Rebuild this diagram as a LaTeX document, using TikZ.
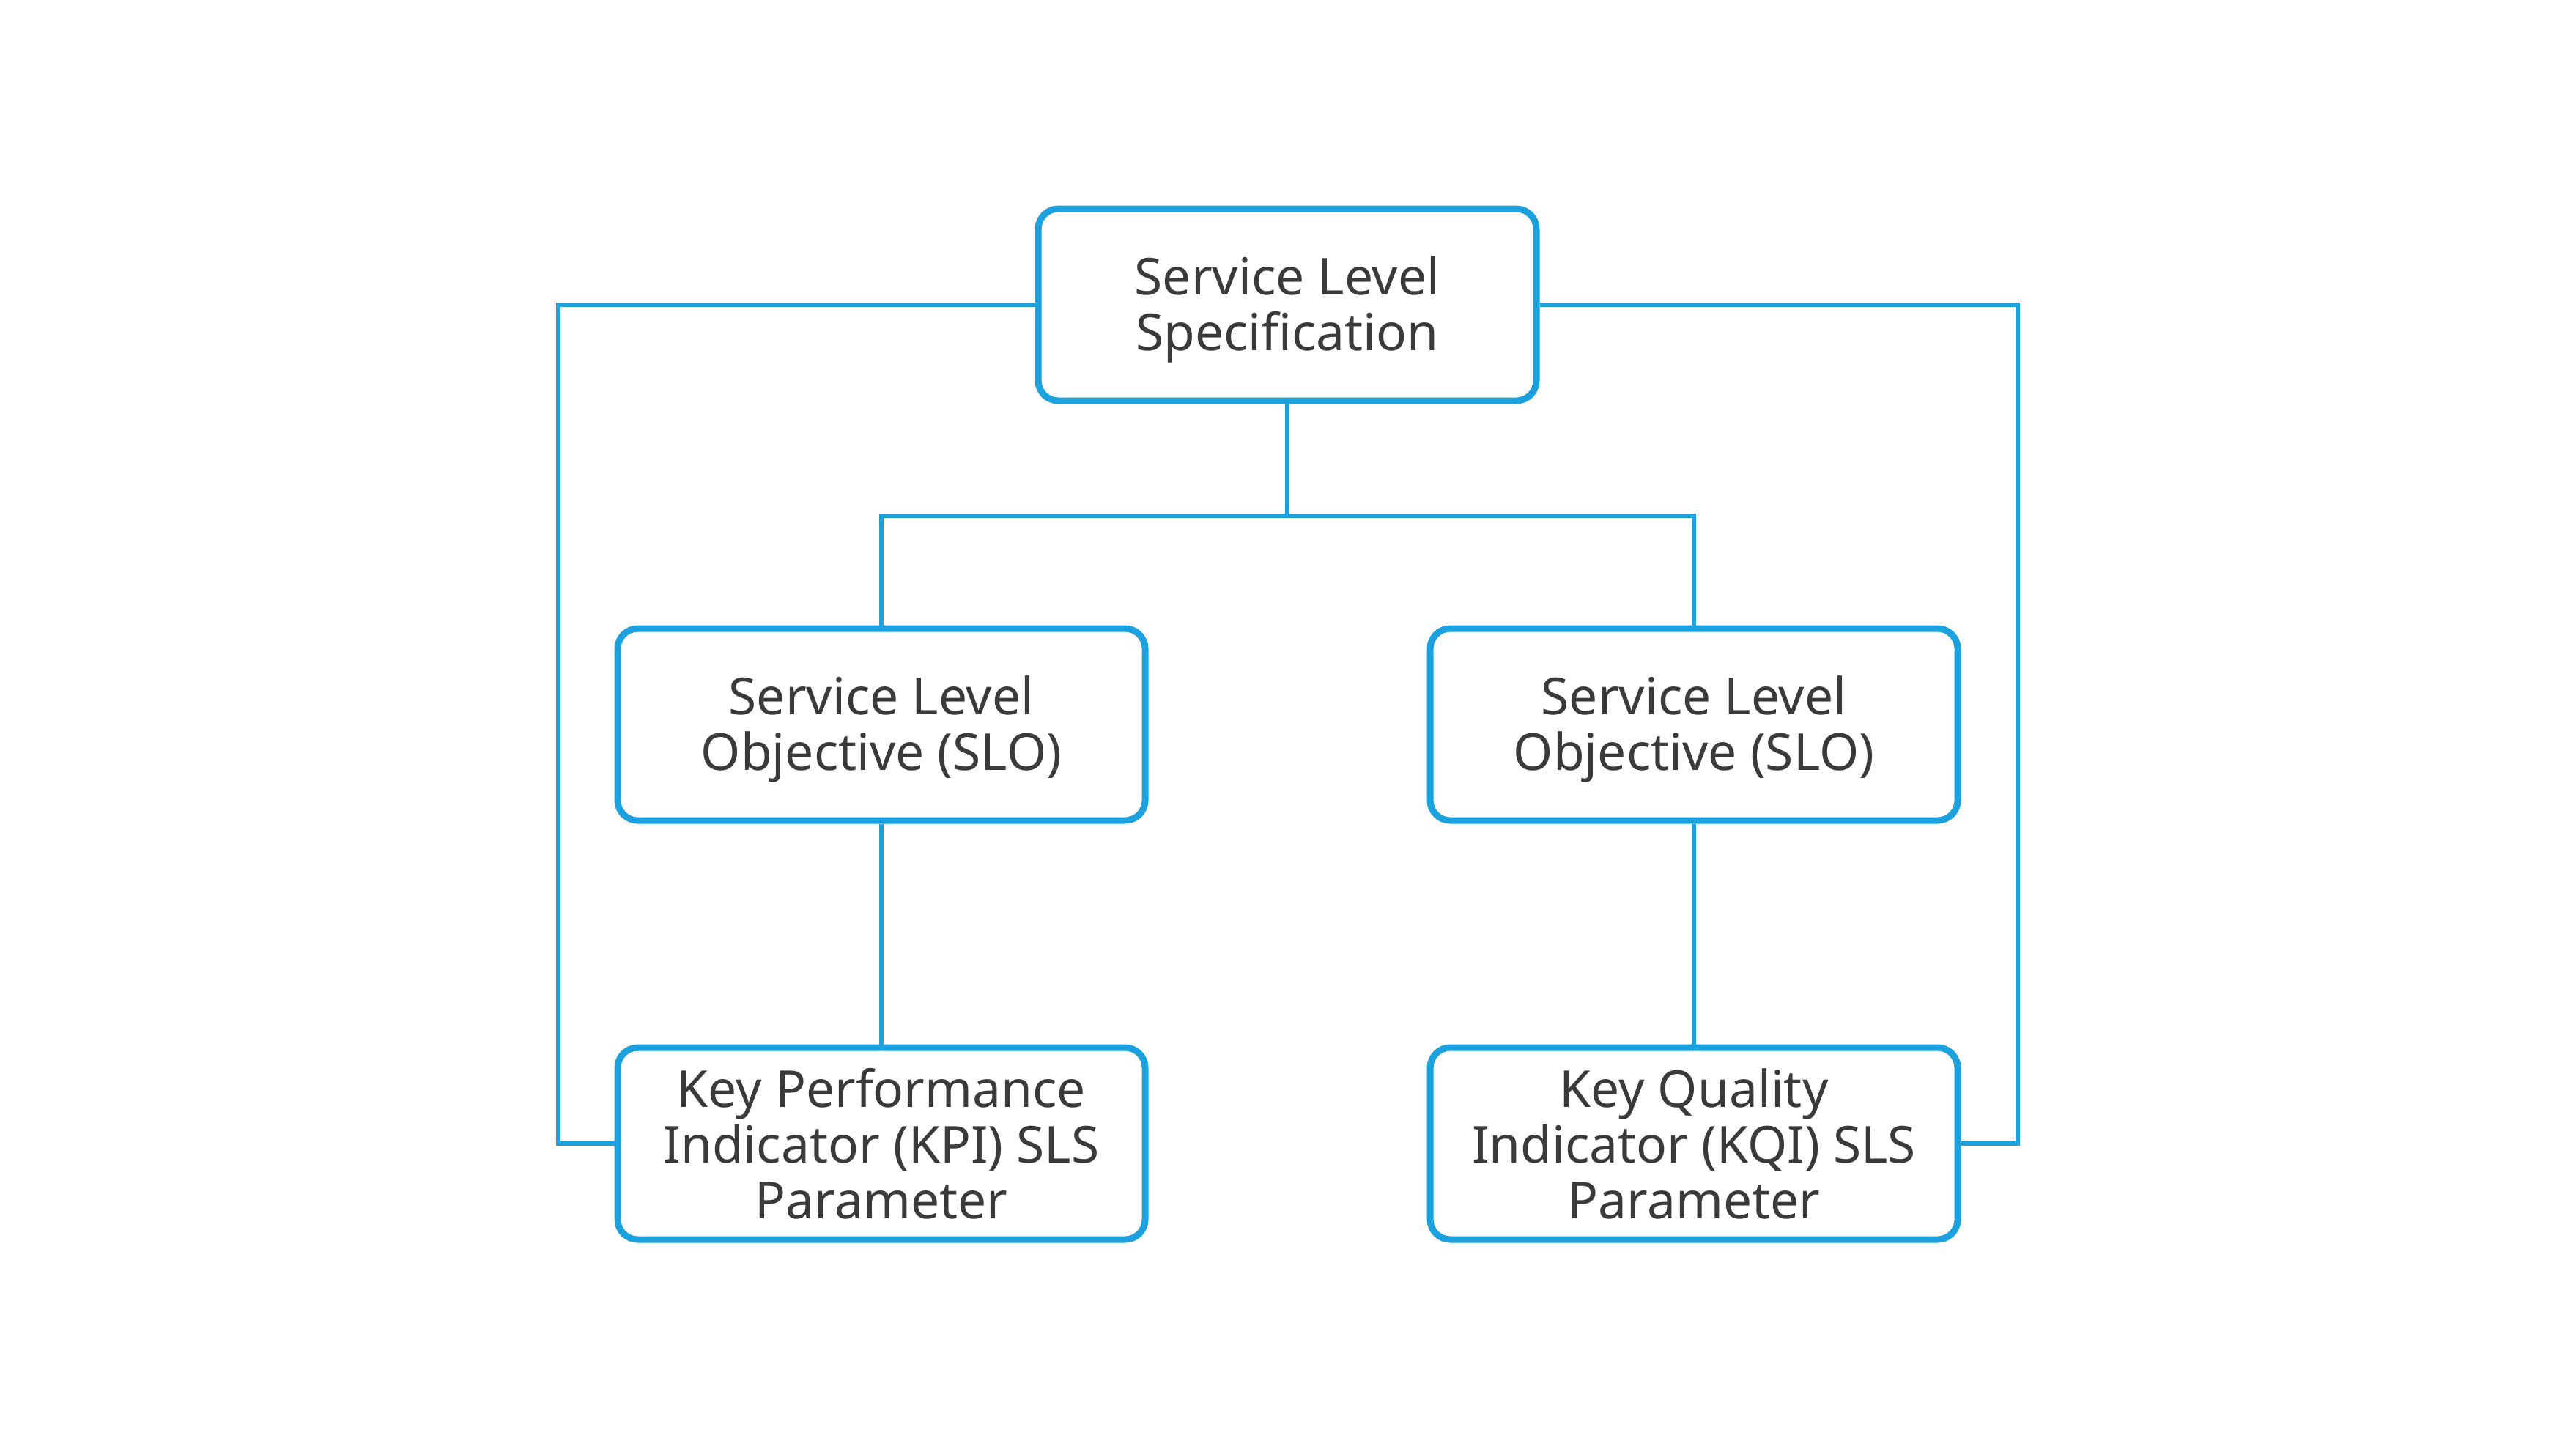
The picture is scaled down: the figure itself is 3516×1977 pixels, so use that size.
\documentclass[tikz,border=0pt]{standalone}
\usepackage{fontspec}
\setmainfont{Noto Sans}
\definecolor{lineblue}{RGB}{27,161,222}
\definecolor{txt}{RGB}{58,58,58}
\newcommand{\lowtxt}[1]{\raisebox{-1.8pt}[\height][\depth]{\begin{tabular}{@{}c@{}}#1\end{tabular}}}
\begin{document}
\begin{tikzpicture}[x=0.2pt,y=-0.2pt,
  box/.style={draw=lineblue,line width=1.8pt,rounded corners=5.5pt,fill=white,
    minimum width=144pt,minimum height=52.4pt,inner sep=0pt,align=center,
    text=txt,font=\fontsize{13.9}{15.2}\selectfont},
  conn/.style={draw=lineblue,line width=1.05pt}]
\useasboundingbox (0,0) rectangle (3516,1977);
\node[box,minimum width=136pt] (sls) at (1757,416) {\lowtxt{Service Level\\Specification}};
\node[box] (slo1) at (1203,989) {\lowtxt{Service Level\\Objective (SLO)}};
\node[box] (slo2) at (2312,989) {\lowtxt{Service Level\\Objective (SLO)}};
\node[box] (kpi) at (1203,1561) {Key Performance\\Indicator (KPI) SLS\\Parameter};
\node[box] (kqi) at (2312,1561) {Key Quality\\Indicator (KQI) SLS\\Parameter};
\coordinate (mid) at (1757,704);
\draw[conn] (sls.south) -- (mid);
\draw[conn] (slo1.north) |- (mid) -| (slo2.north);
\draw[conn] (slo1.south) -- (kpi.north);
\draw[conn] (slo2.south) -- (kqi.north);
\draw[conn] (sls.west) -| (762,1561) -- (kpi.west);
\draw[conn] (sls.east) -| (2754,1561) -- (kqi.east);
\end{tikzpicture}
\end{document}
